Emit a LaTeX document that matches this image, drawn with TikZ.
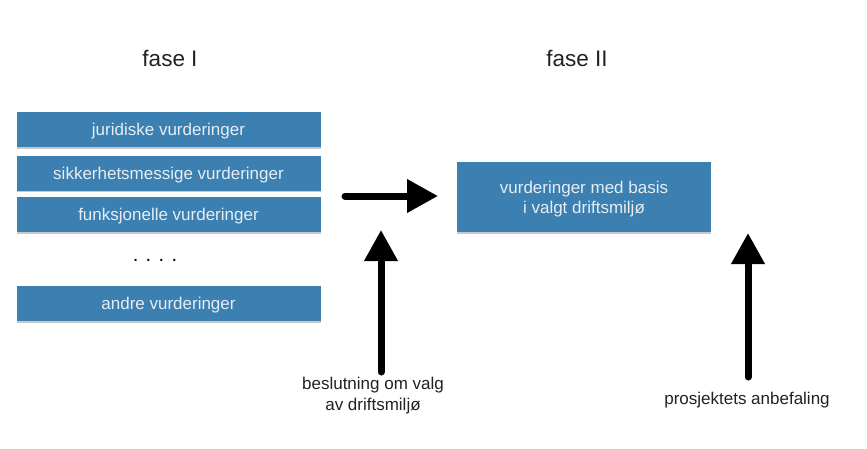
\documentclass[tikz,border=0pt]{standalone}
\usepackage{fontspec}
\setmainfont{Liberation Sans}
\usetikzlibrary{arrows.meta,shadows}
\definecolor{boxblue}{HTML}{3C7FB1}
\definecolor{boxtext}{HTML}{E6EEF4}
\definecolor{labeltext}{HTML}{222222}
\begin{document}
\begin{tikzpicture}[x=1pt,y=-1pt,
  bluebox/.style={fill=boxblue, draw=none, minimum width=304pt, minimum height=35pt,
    inner sep=0pt, text depth=0pt, text=boxtext, font=\fontsize{17}{20}\selectfont, align=center,
    drop shadow={shadow xshift=0pt, shadow yshift=-1.5pt, opacity=0.22, fill=black}},
  phase/.style={text=labeltext, font=\fontsize{22.5}{26}\selectfont},
  lbl/.style={text=labeltext, font=\fontsize{17}{21}\selectfont, align=center},
  bigarrow/.style={line width=7pt, line cap=round, draw=black,
    -{Triangle[length=31pt,width=32pt]}}]
\useasboundingbox (0,0) rectangle (867,448);
\fill[white] (0,0) rectangle (867,448);
% phase titles
\node[phase] (f1) at (170,58) {fase I};
\node[phase] (f2) at (577,58) {fase II};
% left boxes
\node[bluebox] (b1) at (168.5,129.5) {juridiske vurderinger};
\node[bluebox] (b2) at (168.5,173) {sikkerhetsmessige vurderinger};
\node[bluebox] (b3) at (168.5,214.5) {funksjonelle vurderinger};
\node[text=black, font=\fontsize{20}{22}\selectfont] (dots) at (155,260) {. . . .};
\node[bluebox] (b4) at (168.5,303.5) {andre vurderinger};
% right box
\node[bluebox, minimum width=254pt, minimum height=70pt] (r) at (584,197)
  {vurderinger med basis\\i valgt driftsmiljø};
% labels
\node[lbl] (l1) at (373,396) {beslutning om valg\\av driftsmiljø};
\node[lbl] (l2) at (747,400) {prosjektets anbefaling};
% arrows
\coordinate (h1) at (345,196);
\coordinate (h2) at (438,196);
\coordinate (v1s) at (381,372);
\coordinate (v1e) at (381,230);
\coordinate (v2s) at (748,377);
\coordinate (v2e) at (748,233);
\draw[bigarrow] (h1) -- (h2);
\draw[bigarrow] (v1s) -- (v1e);
\draw[bigarrow] (v2s) -- (v2e);
\end{tikzpicture}
\end{document}
